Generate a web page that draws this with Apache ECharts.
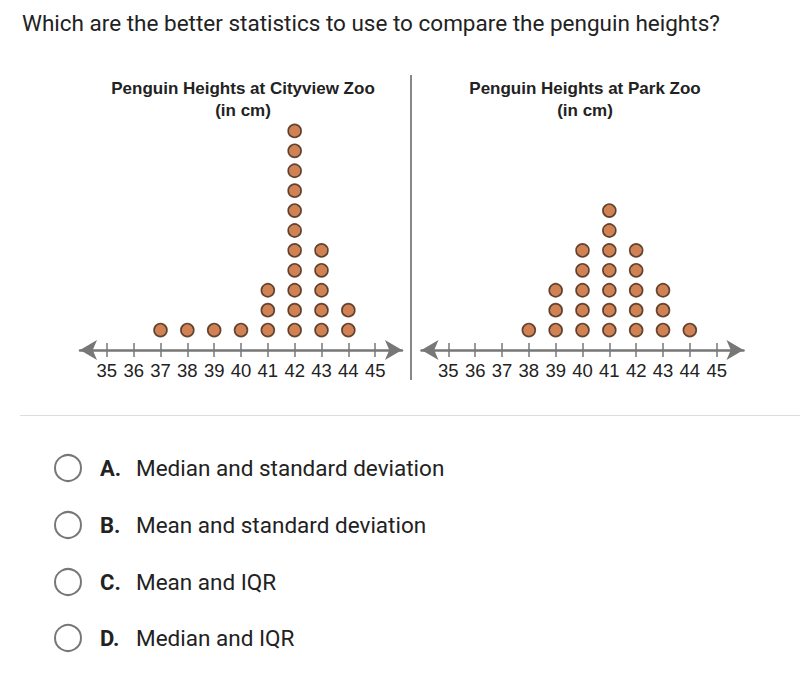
<!DOCTYPE html>
<html>
<head>
<meta charset="utf-8">
<script src="https://cdn.jsdelivr.net/npm/echarts@6/dist/echarts.min.js"></script>
<style>
html,body{margin:0;padding:0;background:#fff;}
#chart{width:800px;height:693px;}
</style>
</head>
<body>
<div id="chart"></div>
<script>
// ---- data ----
const heights = [35, 36, 37, 38, 39, 40, 41, 42, 43, 44, 45];
const tickLabels = ['35', '36', '37', '38', '39', '40', '41', '42', '43', '44', '45'];
const cityviewCounts = [0, 0, 1, 1, 1, 1, 3, 11, 5, 2, 0];
const parkCounts = [0, 0, 0, 1, 3, 5, 7, 5, 3, 1, 0];
const cityviewTitle = 'Penguin Heights at Cityview Zoo\n(in cm)';
const parkTitle = 'Penguin Heights at Park Zoo\n(in cm)';
const question = 'Which are the better statistics to use to compare the penguin heights?';
const optionLetters = ['A.', 'B.', 'C.', 'D.'];
const optionTexts = ['Median and standard deviation', 'Mean and standard deviation', 'Mean and IQR', 'Median and IQR'];

function dots(counts) {
  const pts = [];
  heights.forEach((h, i) => {
    for (let k = 1; k <= counts[i]; k++) pts.push([h, k]);
  });
  return pts;
}

const chart = echarts.init(document.getElementById('chart'), null, {renderer: 'svg'});
const FONT = 'Roboto, "Liberation Sans", Arial, sans-serif';
const AXFONT = '"Liberation Sans", Arial, sans-serif';

const grids = [
  {left: 80, width: 322, top: 111, height: 239},
  {left: 421.5, width: 322, top: 111, height: 239}
];

function mainX(g) {
  return {
    type: 'value', gridIndex: g, min: 34, max: 46, position: 'bottom',
    axisLine: {show: true, lineStyle: {color: '#777', width: 2.5}, symbol: ['arrow', 'arrow'], symbolSize: [15, 17]},
    axisTick: {show: true, length: 7, lineStyle: {color: '#777', width: 1.5}, customValues: heights},
    axisLabel: {show: true, customValues: heights, formatter: v => tickLabels[heights.indexOf(v)] || '',
      color: '#222', fontSize: 18.5, fontFamily: AXFONT, margin: 11},
    splitLine: {show: false}
  };
}
function upperTickX(g) {
  return {
    type: 'value', gridIndex: g, min: 34, max: 46, position: 'bottom',
    axisLine: {show: false},
    axisTick: {show: true, inside: true, length: 7, lineStyle: {color: '#777', width: 1.5}, customValues: heights},
    axisLabel: {show: false},
    splitLine: {show: false}
  };
}
function yAx(g) {
  return {type: 'value', gridIndex: g, min: 0, max: 12, show: false};
}
const dotStyle = {color: '#c4632b', borderColor: '#3f2614', borderWidth: 1.6};

const graphics = [
  {type: 'text', x: 22, y: 23, style: {text: question, font: '22.5px ' + FONT, fill: '#222', textVerticalAlign: 'middle'}},
  {type: 'text', x: 243, y: 99, style: {text: cityviewTitle, font: 'bold 17px ' + AXFONT, fill: '#222', textAlign: 'center', textVerticalAlign: 'middle', lineHeight: 22}},
  {type: 'text', x: 585, y: 99, style: {text: parkTitle, font: 'bold 17px ' + AXFONT, fill: '#222', textAlign: 'center', textVerticalAlign: 'middle', lineHeight: 22}},
  {type: 'line', shape: {x1: 411, y1: 75, x2: 411, y2: 380}, style: {stroke: '#888', lineWidth: 2}},
  {type: 'line', shape: {x1: 20, y1: 415.5, x2: 800, y2: 415.5}, style: {stroke: '#ddd', lineWidth: 1}}
];
const optY = [468, 525, 582, 638];
optionLetters.forEach((l, i) => {
  graphics.push({type: 'circle', shape: {cx: 68, cy: optY[i], r: 13}, style: {fill: 'none', stroke: '#777', lineWidth: 2}});
  graphics.push({type: 'text', x: 100, y: optY[i], style: {text: l, font: 'bold 22px ' + FONT, fill: '#222', textVerticalAlign: 'middle'}});
  graphics.push({type: 'text', x: 136, y: optY[i], style: {text: optionTexts[i], font: '22.5px ' + FONT, fill: '#222', textVerticalAlign: 'middle'}});
});

chart.setOption({
  animation: false,
  backgroundColor: '#fff',
  grid: grids,
  xAxis: [mainX(0), mainX(1), upperTickX(0), upperTickX(1)],
  yAxis: [yAx(0), yAx(1)],
  series: [
    {type: 'scatter', xAxisIndex: 0, yAxisIndex: 0, data: dots(cityviewCounts), symbolSize: 13, itemStyle: dotStyle},
    {type: 'scatter', xAxisIndex: 1, yAxisIndex: 1, data: dots(parkCounts), symbolSize: 13, itemStyle: dotStyle}
  ],
  graphic: graphics
});
</script>
</body>
</html>
